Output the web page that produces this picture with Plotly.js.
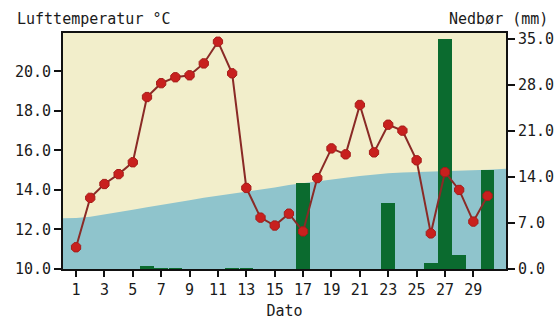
<!DOCTYPE html>
<html>
<head>
<meta charset="utf-8">
<script src="https://cdn.plot.ly/plotly-3.0.1.min.js"></script>
<style>html,body{margin:0;padding:0;background:#fff;}#chart{width:560px;height:323px;}</style>
</head>
<body>
<div id="chart"></div>
<script>
// Days of the month
const days = [1,2,3,4,5,6,7,8,9,10,11,12,13,14,15,16,17,18,19,20,21,22,23,24,25,26,27,28,29,30];
// Air temperature (°C)
const temperature = [11.1,13.6,14.3,14.8,15.4,18.7,19.4,19.7,19.8,20.4,21.5,19.9,14.1,12.6,12.2,12.8,11.9,14.6,16.1,15.8,18.3,15.9,17.3,17.0,15.5,11.8,14.9,14.0,12.4,13.7];
// Precipitation (mm)
const precipitation = [0,0,0,0,0,0.5,0.2,0.1,0,0,0,0.1,0.1,0,0,0,13.1,0,0,0,0,0,10.0,0,0,0.9,35.0,2.1,0,15.0];
// Normal temperature (°C), days 0..32
const normalDays = [0,1,2,3,4,5,6,7,8,9,10,11,12,13,14,15,16,17,18,19,20,21,22,23,24,25,26,27,28,29,30,31,32];
const normalTemp = [12.56,12.58,12.64,12.75,12.88,13.0,13.12,13.25,13.37,13.48,13.6,13.7,13.8,13.92,14.02,14.12,14.25,14.35,14.44,14.52,14.62,14.7,14.78,14.84,14.88,14.9,14.92,14.95,14.97,14.99,15.02,15.06,15.08];
// Tick labels
const xTicks = [1,3,5,7,9,11,13,15,17,19,21,23,25,27,29];
const leftTicks = [10,12,14,16,18,20];
const rightTicks = [0,7,14,21,28,35];

const FONT = "DejaVu Sans Mono, monospace";

const traces = [
  {
    x: normalDays, y: normalTemp, type: 'scatter', mode: 'lines',
    fill: 'tozeroy', fillcolor: '#8fc4cc', line: {width: 0, color: '#8fc4cc'},
    xaxis: 'x', yaxis: 'y', hoverinfo: 'skip', showlegend: false
  },
  {
    x: days, y: precipitation, type: 'bar', width: 0.95,
    marker: {color: '#0b6b2f', line: {width: 0}},
    xaxis: 'x', yaxis: 'y2', showlegend: false
  },
  {
    x: days, y: temperature, type: 'scatter', mode: 'lines+markers',
    line: {color: '#8a2a26', width: 2},
    marker: {symbol: 'octagon', size: 10, color: '#c8201e', line: {color: '#a51c1a', width: 1}},
    xaxis: 'x', yaxis: 'y3', showlegend: false
  }
];

const layout = {
  width: 560, height: 323,
  margin: {l: 63, r: 54, t: 33, b: 54},
  paper_bgcolor: '#ffffff',
  plot_bgcolor: '#f2eecb',
  font: {family: FONT, size: 15, color: '#1a1a1a'},
  showlegend: false,
  bargap: 0,
  xaxis: {
    range: [0.08, 31.3], tickvals: xTicks, ticktext: xTicks.map(String),
    showgrid: false, zeroline: false, showline: true, linecolor: '#111', linewidth: 2,
    mirror: true, ticks: 'outside', ticklen: 6, tickwidth: 2, tickcolor: '#111',
    tickfont: {family: FONT, size: 15, color: '#1a1a1a'},
    title: {text: 'Dato', font: {family: FONT, size: 15, color: '#1a1a1a'}, standoff: 7}
  },
  yaxis: {
    range: [10, 21.94], tickvals: leftTicks, ticktext: leftTicks.map(v => v.toFixed(1)),
    showgrid: false, zeroline: false, showline: true, linecolor: '#111', linewidth: 2,
    ticks: 'outside', ticklen: 7, tickwidth: 2, tickcolor: '#111',
    tickfont: {family: FONT, size: 15, color: '#1a1a1a'}
  },
  yaxis2: {
    range: [0, 35.9], overlaying: 'y', side: 'right',
    tickvals: rightTicks, ticktext: rightTicks.map(v => v.toFixed(1)),
    showgrid: false, zeroline: false, showline: true, linecolor: '#111', linewidth: 2,
    ticks: 'outside', ticklen: 7, tickwidth: 2, tickcolor: '#111',
    tickfont: {family: FONT, size: 15, color: '#1a1a1a'}
  },
  yaxis3: {
    range: [10, 21.94], overlaying: 'y', side: 'left', visible: false,
    showgrid: false, zeroline: false
  },
  annotations: [
    {text: 'Lufttemperatur °C', xref: 'paper', yref: 'paper', x: -0.108, y: 1.0,
     xanchor: 'left', yanchor: 'bottom', yshift: 3, showarrow: false,
     font: {family: FONT, size: 15, color: '#1a1a1a'}},
    {text: 'Nedbør (mm)', xref: 'paper', yref: 'paper', x: 1.1, y: 1.0,
     xanchor: 'right', yanchor: 'bottom', yshift: 3, showarrow: false,
     font: {family: FONT, size: 15, color: '#1a1a1a'}}
  ]
};

Plotly.newPlot('chart', traces, layout, {displayModeBar: false, staticPlot: true});
</script>
</body>
</html>
